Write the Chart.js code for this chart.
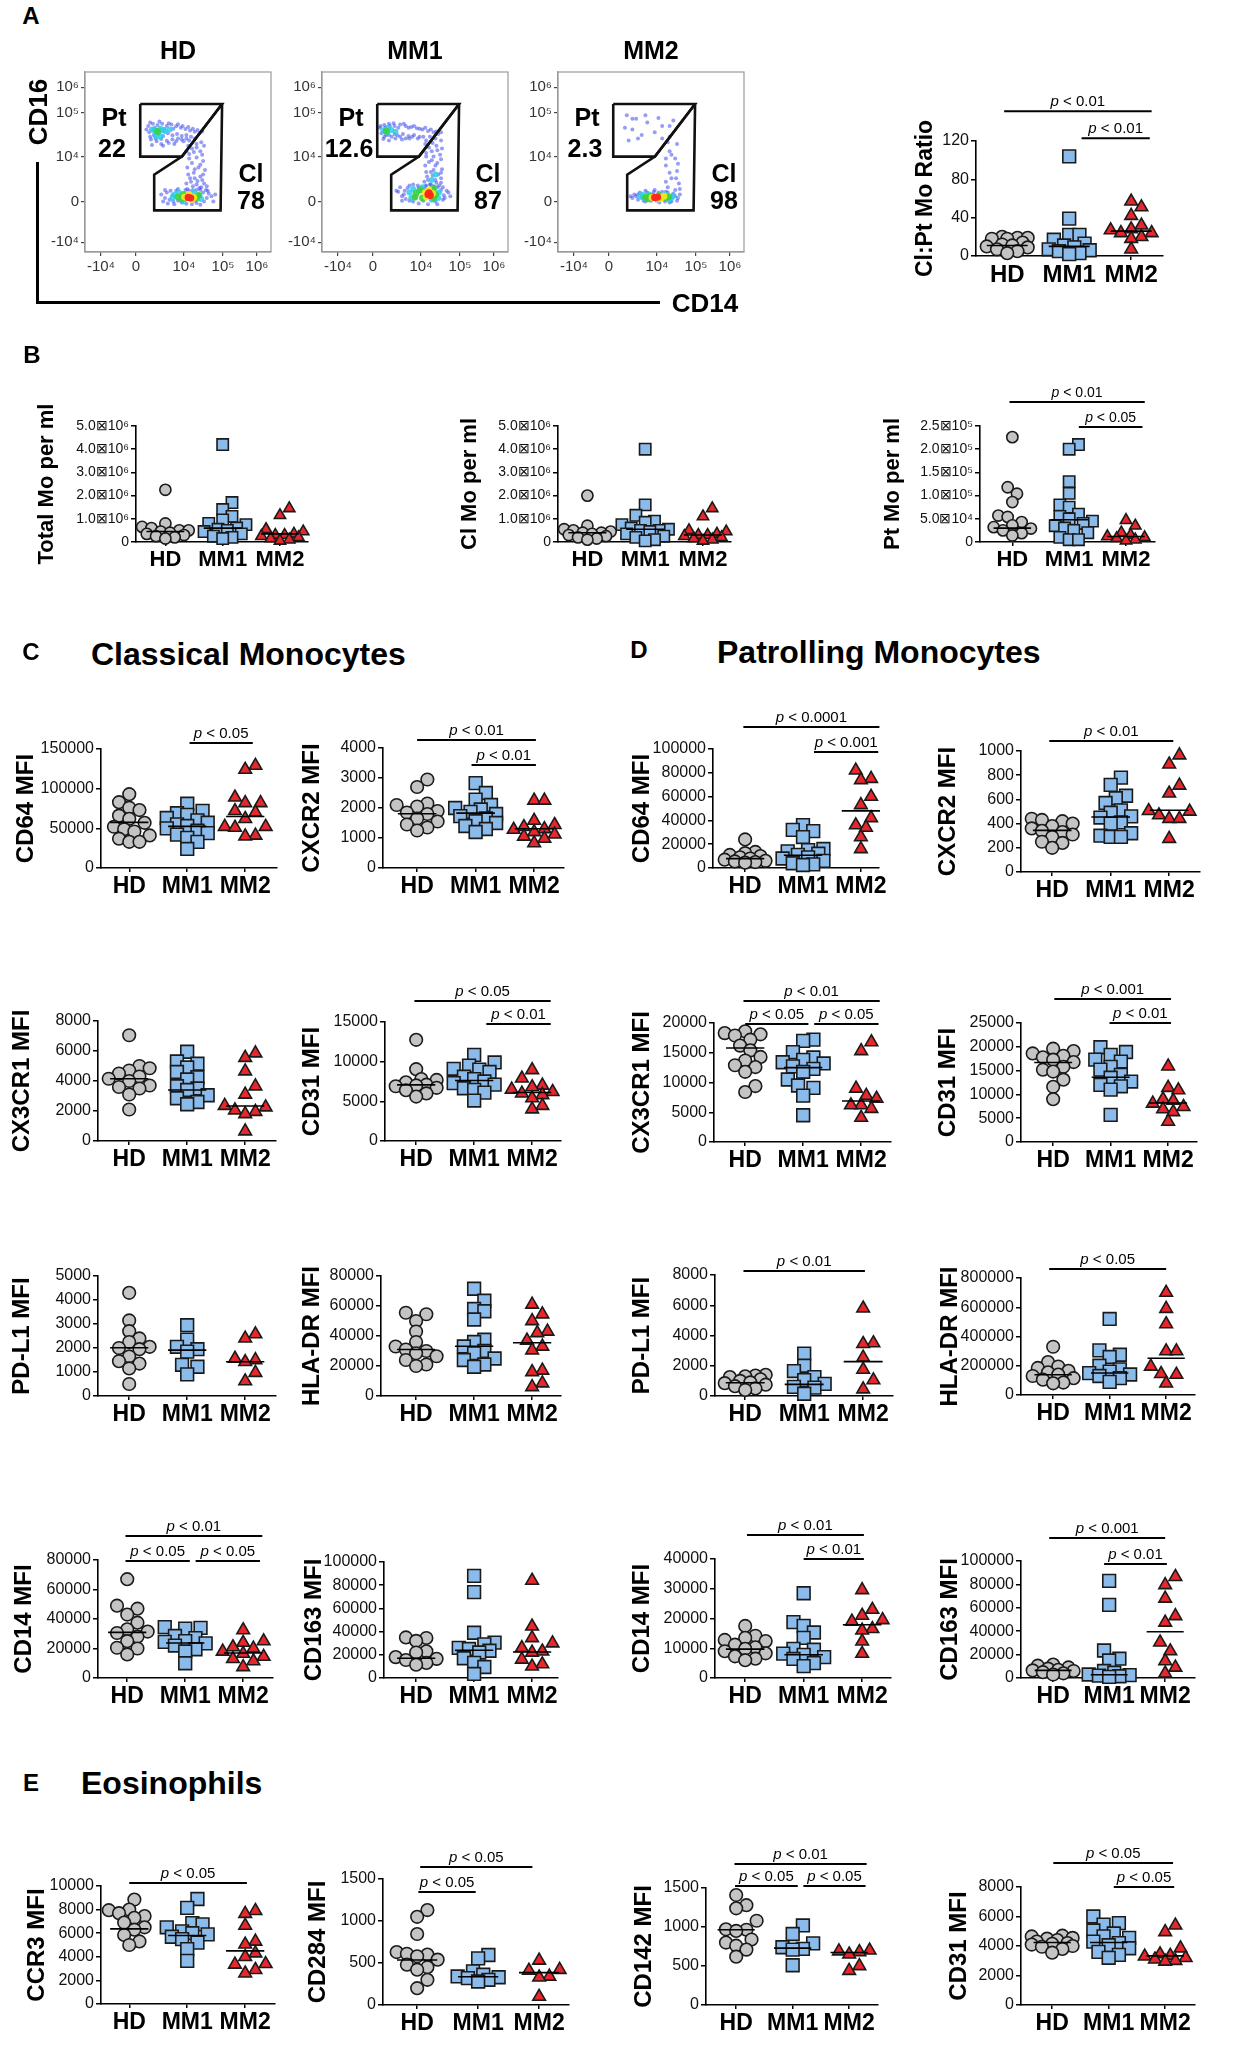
<!DOCTYPE html>
<html><head><meta charset="utf-8">
<script src="https://cdn.jsdelivr.net/npm/chart.js@4.4.1/dist/chart.umd.min.js"></script>
<style>
html,body{margin:0;padding:0;background:#fff;}
body{width:1240px;height:2048px;position:relative;overflow:hidden;}
canvas{position:absolute;}
</style></head>
<body>
<script>
// ---------------- DATA ----------------
const groups = ['HD', 'MM1', 'MM2'];

// Panel A: flow cytometry (channel units 0-1000 on a biexponential display)
const flowTitles = ['HD', 'MM1', 'MM2'];
const flowTickLabels = ['-10⁴', '0', '10⁴', '10⁵', '10⁶'];
const flowXTicks = [86, 274, 532, 742, 925];
const flowYTicks = [54, 281, 530, 775, 915];
const ptGate = [[297,822],[737,822],[521,530],[297,530],[297,822]];
const clGate = [[737,822],[729,231],[372,231],[372,429],[521,530]];
const ptPercent = ['22', '12.6', '2.3'];
const clPercent = ['78', '87', '98'];

const hdBlue = [[340,700],[365,712],[390,705],[415,712],[440,700],[465,708],[490,698],[515,690],[540,683],[565,675],[590,668],[615,660],
 [345,665],[370,650],[395,658],[420,645],[445,660],[470,648],[495,655],[520,645],[545,650],
 [355,625],[385,615],[410,628],[440,618],[470,625],[500,630],[530,615],[360,595],[420,590],[480,600],
 [560,620],[600,600],[575,575],[620,560],[560,545],[600,525],[635,505],[575,495],[610,470],[645,455],[585,440],[620,420],[565,410],[605,395],[640,380],[580,365],[615,355],[550,350],[650,345],
 [440,330],[470,315],[455,290],[490,340],[520,275],[560,340],[600,345],[635,330],[655,300],[640,280],[600,272],[500,285],[680,310],[430,300],[665,325],[475,280],[590,285],
 [330,680],[350,720],[375,690],[400,725],[425,685],[450,715],[475,685],[500,710],[525,700],[555,695],[580,685],[605,678],[630,670],[350,640],[380,630],[410,600],[450,605],[490,615],[520,625],[545,630],[570,640],[590,630],[625,610],[555,590],[600,580],[640,590],[545,560],[585,555],[630,540],[560,520],[620,485],[550,470],[590,460],[635,430],[555,430],[590,410],[630,400],[570,390],[655,365],[600,375],[545,380],[625,360],[580,345],[460,340],[500,350],[540,345],[620,345],[660,340],[420,280],[445,270],[480,265],[545,268],[575,265],[620,262],[690,280],[700,320],[410,320],[430,345]];
const hdCyan = [[360,680],[385,670],[405,685],[430,672],[455,680],[380,645],[405,640],[372,676],[395,662],[418,676],[480,318],[505,330],[615,315],[625,295],[530,280],[585,330],[470,300]];
const hdGreen = [[390,670],[500,305],[530,320],[600,300],[610,315],[520,295]];
const hdYellow = [[535,305],[585,303],[560,318],[575,292]];
const hdRed = [[555,303],[568,300]];

const mm1Blue = [[310,690],[335,705],[360,712],[390,700],[420,708],[450,700],[480,695],[510,688],[540,680],[570,672],[600,665],[625,655],
 [320,660],[345,650],[375,640],[405,648],[435,655],[465,645],[495,650],[525,640],
 [330,628],[360,620],[395,630],[430,625],[470,630],
 [560,620],[595,605],[575,580],[620,565],[560,550],[600,530],[640,515],[575,500],[610,480],[645,460],[585,445],[625,430],[565,420],[610,400],[640,385],[580,375],[620,360],[555,365],
 [420,360],[445,340],[430,310],[470,370],[500,300],[520,355],[560,370],[600,365],[640,345],[655,315],[650,290],[610,280],[470,285],[450,295],[680,330],[545,285],
 [315,700],[340,690],[365,700],[385,715],[410,690],[440,712],[465,690],[495,700],[525,685],[555,690],[585,680],[615,670],[640,665],[335,640],[360,650],[390,655],[420,640],[450,630],[485,640],[515,630],[545,640],[580,640],[610,630],[640,620],[555,600],[615,590],[645,575],[590,560],[560,530],[635,540],[590,510],[620,495],[555,480],[600,455],[640,440],[560,445],[595,425],[640,410],[570,400],[615,385],[550,390],[600,350],[650,360],[410,335],[430,285],[460,355],[490,375],[515,370],[550,350],[585,375],[630,370],[660,300],[670,340],[620,265],[520,270],[490,280],[440,320],[400,340],[690,310],[570,265]];
const mm1Cyan = [[330,675],[350,665],[372,678],[395,668],[355,690],[470,330],[490,350],[520,340],[630,330],[625,300],[480,300],[600,345],[540,360],[590,290],[590,400],[610,430]];
const mm1Green = [[345,672],[505,325],[530,345],[610,320],[600,300],[540,300],[500,305],[600,355]];
const mm1Yellow = [[555,330],[595,325],[575,345],[560,305]];
const mm1Red = [[570,320],[582,315],[575,328]];

const mm2Blue = [[370,760],[420,740],[480,720],[560,700],[400,680],[450,650],[520,665],[600,640],[380,620],[590,610],[470,760],[620,730],
 [600,560],[630,520],[580,480],[640,450],[610,410],[650,380],[590,360],[630,345],
 [410,320],[440,330],[430,290],[470,340],[500,285],[540,330],[580,335],[620,325],[645,300],[640,285],[610,280],[460,285],[400,300],[520,345],
 [400,740],[540,745],[600,700],[360,690],[430,630],[560,630],[640,600],[610,540],[580,520],[645,490],[600,440],[635,410],[580,390],[655,350],[420,310],[450,300],[480,330],[510,320],[530,285],[560,335],[590,330],[600,275],[630,310],[655,320],[470,280],[430,320],[390,310],[545,275],[575,280],[515,335]];
const mm2Cyan = [[440,310],[470,295],[490,320],[580,318],[610,300],[620,312],[455,318],[600,290]];
const mm2Green = [[470,305],[500,310],[545,315],[580,300],[595,308],[485,295]];
const mm2Yellow = [[505,303],[555,300],[540,295],[570,310]];
const mm2Red = [[520,303],[535,305]];

// Panel A: Cl:Pt ratio
const ratioHD = [20, 19, 19, 18, 18, 14, 12, 11, 10, 9, 7, 5, 3];
const ratioMM1 = [104, 39, 22, 22, 17, 13, 11, 9, 7, 6, 5, 3, 2];
const ratioMM2 = [57, 51, 42, 32, 28, 27, 24, 24, 20, 18, 7];
const ratioMed = [11, 10, 26];

// Panel B
const countTicks = ['0', '1.0⊠10⁶', '2.0⊠10⁶', '3.0⊠10⁶', '4.0⊠10⁶', '5.0⊠10⁶'];
const ptTicks = ['0', '5.0⊠10⁴', '1.0⊠10⁵', '1.5⊠10⁵', '2.0⊠10⁵', '2.5⊠10⁵'];
const totalHD = [2250000, 800000, 650000, 600000, 500000, 500000, 450000, 400000, 350000, 300000, 250000, 200000, 150000];
const totalMM1 = [4200000, 1700000, 1400000, 1100000, 950000, 800000, 750000, 600000, 550000, 500000, 450000, 350000, 250000, 200000, 150000];
const totalMM2 = [1450000, 1150000, 550000, 450000, 350000, 300000, 300000, 250000, 200000, 150000, 100000, 50000];
const totalMed = [450000, 600000, 350000];
const clHD = [2000000, 700000, 550000, 500000, 450000, 400000, 400000, 350000, 300000, 250000, 200000, 150000, 100000];
const clMM1 = [4000000, 1600000, 1150000, 900000, 850000, 750000, 600000, 550000, 500000, 500000, 450000, 350000, 250000, 200000, 100000, 50000];
const clMM2 = [1450000, 1100000, 500000, 450000, 350000, 300000, 300000, 250000, 200000, 150000, 100000, 50000];
const clMed = [400000, 550000, 300000];
const ptHD = [226000, 118000, 104000, 86000, 57000, 54000, 43000, 36000, 32000, 29000, 25000, 19000, 14000];
const ptMM1 = [210000, 200000, 130000, 105000, 80000, 75000, 60000, 55000, 50000, 45000, 40000, 35000, 30000, 25000, 20000, 10000, 5000, 5000];
const ptMM2 = [47000, 35000, 20000, 15000, 12000, 10000, 8000, 5000, 3000];
const ptMed = [30000, 48000, 12000];

// Panel C: classical monocytes
const cd64cHD = [93000, 83000, 76000, 73000, 66000, 62000, 57000, 52000, 49000, 46000, 41000, 37000, 33000, 33000];
const cd64cMM1 = [81000, 72000, 69000, 67000, 63000, 60000, 57000, 55000, 53000, 50000, 47000, 44000, 42000, 38000, 33000, 24000];
const cd64cMM2 = [129000, 124000, 89000, 82000, 82000, 72000, 70000, 62000, 52000, 52000, 51000, 41000, 40000];
const cd64cMed = [57500, 52500, 65000];
const cxcr2cHD = [2950, 2700, 2150, 2100, 2050, 1900, 1850, 1800, 1650, 1550, 1450, 1350, 1250];
const cxcr2cMM1 = [2830, 2500, 2280, 2100, 2000, 1950, 1870, 1800, 1730, 1650, 1560, 1500, 1400, 1300, 1200];
const cxcr2cMM2 = [2250, 2250, 1580, 1440, 1370, 1300, 1280, 1200, 1120, 1050, 980, 830];
const cxcr2cMed = [1810, 1830, 1310];
const cx3cr1cHD = [7050, 5000, 4850, 4700, 4500, 4300, 4150, 4000, 3700, 3600, 3500, 3100, 2100];
const cx3cr1cMM1 = [5950, 5300, 5150, 4900, 4600, 4250, 4100, 3650, 3500, 3400, 3050, 2850, 2600, 2450];
const cx3cr1cMM2 = [5850, 5550, 4650, 3650, 3100, 2350, 2250, 2050, 1950, 1800, 650];
const cx3cr1cMed = [4150, 3400, 2330];
const cd31cHD = [12750, 9050, 7800, 7700, 7400, 7100, 7000, 6900, 6700, 6400, 6000, 5600];
const cd31cMM1 = [10850, 9900, 9500, 9100, 9000, 8700, 8100, 7800, 7500, 7300, 7100, 6650, 6450, 6100, 5100];
const cd31cMM2 = [8950, 7900, 7000, 6800, 6500, 6200, 6000, 5800, 5400, 4450, 4000];
const cd31cMed = [7080, 7630, 6110];
const pdl1cHD = [4300, 3150, 2700, 2400, 2250, 2050, 2000, 1950, 1650, 1450, 1350, 1150, 500];
const pdl1cMM1 = [2950, 2350, 2050, 1950, 1850, 1300, 1220, 900];
const pdl1cMM2 = [2580, 2400, 1560, 1500, 1420, 970, 620];
const pdl1cMed = [2010, 1910, 1430];
const hladrcHD = [55500, 54500, 50000, 43000, 36000, 33000, 31000, 30000, 28500, 26500, 24000, 21000, 20000];
const hladrcMM1 = [71500, 63500, 58000, 56500, 51000, 37500, 36000, 33000, 30000, 28500, 25000, 24000, 21000, 19500];
const hladrcMM2 = [61000, 54500, 50000, 43000, 42000, 37000, 33000, 30500, 17000, 16000, 8500, 6000];
const hladrcMed = [31000, 33200, 35500];
const cd14cHD = [67000, 49000, 47000, 43000, 37500, 33000, 31500, 30500, 28000, 25000, 20500, 20000, 16000];
const cd14cMM1 = [34500, 34000, 33500, 28500, 27000, 25000, 24500, 23500, 22000, 19500, 18000, 10000];
const cd14cMM2 = [32500, 25000, 24000, 21000, 20000, 18000, 16500, 14500, 13000, 11500, 7500];
const cd14cMed = [30900, 23700, 16900];
const cd163cHD = [35000, 34500, 32000, 23000, 22000, 18000, 16500, 15500, 13000, 11500];
const cd163cMM1 = [88000, 74000, 39000, 30500, 29000, 26000, 25000, 23500, 22000, 17000, 13000, 9500, 3500];
const cd163cMM2 = [84000, 44500, 34500, 30000, 26000, 23000, 22000, 16000, 12000, 10000];
const cd163cMed = [17000, 23900, 22400];

// Panel D: patrolling monocytes
const cd64pHD = [24000, 13500, 12500, 11000, 10000, 9000, 8000, 7000, 6000, 5500, 5000, 4500];
const cd64pMM1 = [36000, 32000, 31000, 26000, 16000, 15000, 14000, 12000, 11000, 9000, 8000, 6000, 4000, 3000, 2500];
const cd64pMM2 = [82000, 75000, 74000, 60000, 53000, 42000, 36000, 34000, 26000, 16000];
const cd64pMed = [7900, 10700, 48000];
const cxcr2pHD = [440, 430, 420, 400, 380, 360, 340, 330, 310, 290, 250, 240, 200];
const cxcr2pMM1 = [780, 720, 630, 610, 570, 510, 490, 460, 450, 410, 400, 320, 300, 290, 290];
const cxcr2pMM2 = [965, 890, 715, 650, 505, 500, 470, 440, 440, 275];
const cxcr2pMed = [344, 455, 510];
const cx3cr1pHD = [18600, 18300, 18100, 17900, 17200, 16200, 15400, 14300, 13700, 12900, 12600, 11800, 9400, 8400];
const cx3cr1pMM1 = [17200, 17000, 15100, 14200, 13800, 13400, 13200, 12700, 12300, 11800, 10500, 9500, 9100, 7800, 4500];
const cx3cr1pMM2 = [16800, 15300, 9000, 7800, 7300, 6200, 6200, 5600, 4100];
const cx3cr1pMed = [15800, 12500, 6900];
const cd31pHD = [19600, 19100, 18600, 18100, 17800, 17300, 16800, 15800, 15200, 14800, 13100, 11600, 9000];
const cd31pMM1 = [19900, 18900, 18300, 17300, 16900, 15800, 15200, 14100, 13500, 12700, 12000, 11700, 11000, 5700];
const cd31pMM2 = [15900, 11400, 10900, 9000, 8700, 8100, 7400, 6900, 6300, 4300];
const cd31pMed = [16700, 13600, 8200];
const pdl1pHD = [1400, 1350, 1300, 1250, 1100, 1000, 900, 850, 750, 650, 500, 400];
const pdl1pMM1 = [2800, 2000, 1650, 1250, 1050, 800, 600, 550, 150];
const pdl1pMM2 = [5800, 3500, 3450, 2550, 1750, 1050, 450];
const pdl1pMed = [880, 770, 2270];
const hladrpHD = [330000, 225000, 195000, 185000, 165000, 155000, 140000, 130000, 115000, 105000, 85000, 80000];
const hladrpMM1 = [520000, 305000, 275000, 260000, 200000, 175000, 160000, 150000, 140000, 130000, 115000, 90000];
const hladrpMM2 = [700000, 590000, 485000, 300000, 300000, 195000, 145000, 140000, 80000];
const hladrpMed = [138000, 150000, 251000];
const cd14pHD = [17500, 14200, 13500, 12800, 12400, 11200, 10300, 9800, 9000, 8300, 7300, 6500, 6000];
const cd14pMM1 = [28500, 18800, 17500, 15300, 13500, 9800, 9500, 8200, 7800, 7000, 6400, 5000, 4000];
const cd14pMM2 = [29600, 23000, 21000, 19500, 19000, 16500, 16000, 12300, 8200];
const cd14pMed = [9700, 7800, 17900];
const cd163pHD = [11500, 10500, 9000, 8000, 7000, 6500, 6000, 5000, 4000, 3000];
const cd163pMM1 = [83000, 62500, 23500, 16500, 15000, 6000, 4500, 3000, 2500, 2000, 1500, 1000];
const cd163pMM2 = [86500, 79500, 68000, 53000, 47500, 30500, 23000, 14500, 9000, 4000];
const cd163pMed = [6500, 2800, 39500];

// Panel E: eosinophils
const ccr3HD = [8850, 8000, 7950, 7700, 7450, 7300, 6900, 6500, 6300, 5850, 5300, 5000];
const ccr3MM1 = [8900, 8150, 6850, 6750, 6500, 6150, 6000, 5900, 5700, 5500, 5200, 4650, 3650];
const ccr3MM2 = [7900, 7650, 6650, 5300, 5050, 4300, 4000, 3400, 3350, 2900, 2600];
const ccr3Med = [6370, 5800, 4500];
const cd284HD = [1130, 1050, 845, 630, 610, 600, 580, 540, 480, 450, 420, 300, 200];
const cd284MM1 = [595, 555, 400, 360, 340, 330, 320, 300, 280];
const cd284MM2 = [530, 420, 410, 340, 330, 100];
const cd284Med = [536, 337, 385];
const cd142HD = [1410, 1280, 1240, 1080, 970, 965, 950, 840, 800, 760, 710, 620];
const cd142MM1 = [1020, 910, 790, 740, 720, 710, 510];
const cd142MM2 = [700, 690, 680, 650, 500, 440];
const cd142Med = [964, 729, 673];
const cd31eHD = [4700, 4650, 4550, 4500, 4400, 4300, 4200, 4150, 4100, 4000, 3950, 3800, 3550];
const cd31eMM1 = [6000, 5550, 5450, 5050, 4850, 4650, 4550, 4300, 4200, 4050, 3850, 3600, 3400, 3200];
const cd31eMM2 = [5400, 4950, 3850, 3450, 3350, 3300, 3200, 3100, 3000, 2950];
const cd31eMed = [4240, 4240, 3330];

// ---------------- RENDERING ----------------
const FONT = "'Liberation Sans', Arial, Helvetica, sans-serif";
Chart.defaults.font.family = FONT;
Chart.defaults.color = '#000';
const fills = ['#c4c4c4', '#8bbbea', '#e8272d'];
const shapes = ['circle', 'rect', 'triangle'];

function txt(s, x, y, size, opt = {}) {
  const d = document.createElement('div');
  d.textContent = s;
  const tr = opt.left ? 'translate(0,-50%)' : 'translate(-50%,-50%)';
  d.style.cssText = `position:absolute;left:${x}px;top:${y}px;transform:${tr}${opt.rot ? ' rotate(-90deg)' : ''};` +
    `font:bold ${size}px ${FONT};white-space:nowrap;line-height:1;color:#000;`;
  document.body.appendChild(d);
}
function line(x, y, w, h) {
  const d = document.createElement('div');
  d.style.cssText = `position:absolute;left:${x}px;top:${y}px;width:${w}px;height:${h}px;background:#000;`;
  document.body.appendChild(d);
}
function mkCanvas(l, t, w, h) {
  const c = document.createElement('canvas');
  c.width = w; c.height = h;
  c.style.cssText = `left:${l}px;top:${t}px;width:${w}px;height:${h}px;`;
  document.body.appendChild(c);
  return c;
}

// beeswarm: horizontal offsets (px) so markers do not overlap too much
function swarm(vals, pxv, d, maxOff) {
  const order = vals.map((v, i) => i).sort((a, b) => vals[a] - vals[b]);
  const placed = [], off = new Array(vals.length).fill(0);
  const cands = [0];
  for (let k = 1; k * d * 0.5 <= maxOff; k++) cands.push(k * d * 0.5, -k * d * 0.5);
  for (const i of order) {
    const y = vals[i] * pxv;
    let best = 0, bestMin = -1;
    for (const c of cands) {
      let mind = Infinity;
      for (const p of placed) mind = Math.min(mind, Math.hypot(p.x - c, p.y - y));
      if (mind >= d) { best = c; break; }
      if (mind > bestMin) { bestMin = mind; best = c; }
    }
    placed.push({ x: best, y });
    off[i] = best;
  }
  return off;
}

const sigPlugin = {
  id: 'sig',
  afterDatasetsDraw(chart) {
    const o = chart.options.plugins.sig;
    if (!o || !o.items) return;
    const { ctx } = chart, xs = chart.scales.x, ys = chart.scales.y;
    ctx.save();
    for (const [a, b, v, t] of o.items) {
      const x1 = xs.getPixelForValue(a), x2 = xs.getPixelForValue(b), py = ys.getPixelForValue(v);
      ctx.strokeStyle = '#000'; ctx.lineWidth = 2;
      ctx.beginPath(); ctx.moveTo(x1, py); ctx.lineTo(x2, py); ctx.stroke();
      const rest = ' < ' + t;
      ctx.font = `italic ${o.fs}px ${FONT}`; const w1 = ctx.measureText('p').width;
      ctx.font = `${o.fs}px ${FONT}`; const w2 = ctx.measureText(rest).width;
      const sx = (x1 + x2) / 2 - (w1 + w2) / 2;
      ctx.fillStyle = '#000'; ctx.textBaseline = 'alphabetic'; ctx.textAlign = 'left';
      ctx.font = `italic ${o.fs}px ${FONT}`; ctx.fillText('p', sx, py - 5);
      ctx.font = `${o.fs}px ${FONT}`; ctx.fillText(rest, sx + w1, py - 5);
    }
    ctx.restore();
  }
};

function dotChart(s) {
  const tfs = s.tfs || 24, tick = s.tick || 16, cat = s.cat || 23;
  const left = Math.round(s.tx - 0.6 * tfs);
  const top = s.T - 75, right = s.R + 6, xH = 42;
  const W = right - left, H = s.B - top + xH;
  const cv = mkCanvas(left, top, W, H);
  const sp = (s.c3 - s.c1) / 2;
  const xmin = 1 - (s.c1 - s.L) / sp, xmax = 1 + (s.R - s.c1) / sp;
  const pxv = (s.B - s.T) / s.max;
  const ms = s.ms || [6.3, 9, 7.3];
  const ds = [];
  s.data.forEach((vals, g) => {
    const off = swarm(vals, pxv, s.d || 10.5, 25);
    ds.push({
      data: vals.map((v, i) => ({ x: g + 1 + off[i] / sp, y: v })),
      pointStyle: shapes[g], pointRadius: ms[g], pointHoverRadius: ms[g],
      backgroundColor: fills[g], borderColor: '#1a1a1a', borderWidth: 1.6,
      showLine: false, order: 2, clip: false
    });
  });
  s.med.forEach((m, g) => ds.push({
    data: [{ x: g + 1 - 0.33, y: m }, { x: g + 1 + 0.33, y: m }],
    showLine: true, borderColor: '#000', borderWidth: 1.6, pointRadius: 0, order: 1, clip: false
  }));
  new Chart(cv, {
    type: 'scatter',
    data: { datasets: ds },
    options: {
      responsive: false, animation: false, devicePixelRatio: 1,
      layout: { padding: { top: s.T - top, right: right - s.R, left: 0, bottom: 0 } },
      plugins: { legend: { display: false }, tooltip: { enabled: false }, sig: { items: s.sig || [], fs: s.sfs || 15 } },
      scales: {
        x: {
          type: 'linear', min: xmin, max: xmax,
          afterBuildTicks: sc => { sc.ticks = [{ value: 1 }, { value: 2 }, { value: 3 }]; },
          afterFit: sc => { sc.height = xH; },
          ticks: { callback: v => groups[Math.round(v) - 1], font: { size: cat, weight: 'bold' }, color: '#000', padding: 1, autoSkip: false, maxRotation: 0 },
          grid: { display: true, drawOnChartArea: false, drawTicks: true, tickLength: 4, color: '#000', lineWidth: 1.5 },
          border: { display: true, color: '#000', width: 1.6 }
        },
        y: {
          min: 0, max: s.max,
          afterFit: sc => { sc.width = s.L - left; },
          ticks: { stepSize: s.step, font: { size: tick }, color: '#111', padding: 2,
            callback: v => s.labels ? s.labels[Math.round(v / s.step)] : String(v) },
          grid: { display: true, drawOnChartArea: false, drawTicks: true, tickLength: 5, color: '#000', lineWidth: 1.5 },
          border: { display: true, color: '#000', width: 1.6 },
          title: { display: true, text: s.title, font: { size: tfs, weight: 'bold' }, color: '#000', padding: 0 }
        }
      }
    },
    plugins: [sigPlugin]
  });
}

// flow density plots
const framePlugin = {
  id: 'frame',
  afterDraw(chart) {
    const a = chart.chartArea, ctx = chart.ctx;
    ctx.save(); ctx.strokeStyle = '#9a9a9a'; ctx.lineWidth = 1.2;
    ctx.strokeRect(a.left, a.top, a.right - a.left, a.bottom - a.top); ctx.restore();
  }
};
function flowChart(L, levels) {
  const T = 67, Wf = 186, Hf = 185, yw = 50, xh = 34, pt = 6, pr = 6;
  const cv = mkCanvas(L - yw, T - pt, yw + Wf + pr, pt + Hf + xh);
  const lvl = [
    { c: 'rgba(45,60,235,0.5)', r: 2.0 }, { c: 'rgba(45,205,235,0.85)', r: 3.0 },
    { c: 'rgba(60,210,60,0.9)', r: 3.4 }, { c: 'rgba(245,225,30,0.95)', r: 3.4 }, { c: 'rgba(255,40,30,1)', r: 3.6 }
  ];
  const ds = levels.map((pts, i) => ({
    data: pts.map(p => ({ x: p[0], y: p[1] })), pointRadius: lvl[i].r, pointHoverRadius: lvl[i].r,
    backgroundColor: lvl[i].c, borderWidth: 0, showLine: false, order: 5 - i
  }));
  [ptGate, clGate].forEach(gt => ds.push({
    data: gt.concat([gt[0]]).map(p => ({ x: p[0], y: p[1] })), showLine: true, borderColor: '#111',
    borderWidth: 2.6, pointRadius: 0, order: 0, clip: false
  }));
  const axisCommon = {
    min: 0, max: 1000,
    ticks: { font: { size: 15 }, color: '#333', padding: 2, autoSkip: false, maxRotation: 0, callback: (v, i) => flowTickLabels[i] },
    grid: { display: true, drawOnChartArea: false, drawTicks: true, tickLength: 4, color: '#444', lineWidth: 1.2 },
    border: { display: true, color: '#9a9a9a', width: 1.2 }
  };
  new Chart(cv, {
    type: 'scatter', data: { datasets: ds },
    options: {
      responsive: false, animation: false, devicePixelRatio: 1,
      layout: { padding: { top: pt, right: pr, left: 0, bottom: 0 } },
      plugins: { legend: { display: false }, tooltip: { enabled: false } },
      scales: {
        x: Object.assign({}, axisCommon, { afterBuildTicks: sc => { sc.ticks = flowXTicks.map(v => ({ value: v })); }, afterFit: sc => { sc.height = xh; } }),
        y: Object.assign({}, axisCommon, { afterBuildTicks: sc => { sc.ticks = flowYTicks.map(v => ({ value: v })); }, afterFit: sc => { sc.width = yw; } })
      }
    },
    plugins: [framePlugin]
  });
}

// ---------------- PANEL A ----------------
txt('A', 31, 16, 24);
const flowLefts = [85, 322, 558];
const flowSets = [
  [hdBlue, hdCyan, hdGreen, hdYellow, hdRed],
  [mm1Blue, mm1Cyan, mm1Green, mm1Yellow, mm1Red],
  [mm2Blue, mm2Cyan, mm2Green, mm2Yellow, mm2Red]
];
flowLefts.forEach((L, i) => {
  flowChart(L, flowSets[i]);
  txt(flowTitles[i], L + 93, 50, 25);
  txt('Pt', L + 29, 117, 25);
  txt(ptPercent[i], L + 27, 148, 25);
  txt('Cl', L + 166, 173, 25);
  txt(clPercent[i], L + 166, 200, 25);
});
line(36, 162, 3, 142);
line(36, 301, 624, 3);
txt('CD16', 38, 112, 26, { rot: true });
txt('CD14', 705, 303, 26);

dotChart({ L: 976, R: 1167, T: 141, B: 256, c1: 1008, c3: 1135, max: 120, step: 20, title: 'Cl:Pt Mo Ratio', tx: 926, tfs: 23, cat: 24,
  data: [ratioHD, ratioMM1, ratioMM2], med: ratioMed, sig: [[0.95, 3.33, 151, '0.01'], [2.2, 3.3, 123, '0.01']] });

// ---------------- PANEL B ----------------
txt('B', 32, 355, 24);
const bMs = [5.6, 8, 6.5];
dotChart({ L: 136, R: 311, T: 426, B: 542, c1: 166, c3: 283, max: 5000000, step: 1000000, labels: countTicks, title: 'Total Mo per ml', tx: 47, tfs: 22, cat: 22, tick: 14, ms: bMs, d: 9.5,
  data: [totalHD, totalMM1, totalMM2], med: totalMed });
dotChart({ L: 558, R: 734, T: 426, B: 542, c1: 588, c3: 706, max: 5000000, step: 1000000, labels: countTicks, title: 'Cl Mo per ml', tx: 470, tfs: 22, cat: 22, tick: 14, ms: bMs, d: 9.5,
  data: [clHD, clMM1, clMM2], med: clMed });
dotChart({ L: 980, R: 1158, T: 426, B: 542, c1: 1013, c3: 1129, max: 250000, step: 50000, labels: ptTicks, title: 'Pt Mo per ml', tx: 893, tfs: 22, cat: 22, tick: 14, ms: bMs, d: 9.5, sfs: 14,
  data: [ptHD, ptMM1, ptMM2], med: ptMed, sig: [[0.95, 3.33, 301700, '0.01'], [2.17, 3.29, 247800, '0.05']] });

// ---------------- PANEL C ----------------
txt('C', 31, 652, 24);
txt('Classical Monocytes', 91, 654, 32, { left: true });
dotChart({ L: 101, R: 281, T: 749, B: 868, c1: 130, c3: 249, max: 150000, step: 50000, title: 'CD64 MFI', tx: 26,
  data: [cd64cHD, cd64cMM1, cd64cMM2], med: cd64cMed, sig: [[2.04, 3.13, 157600, '0.05']] });
dotChart({ L: 383, R: 568, T: 748, B: 868, c1: 418, c3: 538, max: 4000, step: 1000, title: 'CXCR2 MFI', tx: 312,
  data: [cxcr2cHD, cxcr2cMM1, cxcr2cMM2], med: cxcr2cMed, sig: [[1.0, 3.03, 4267, '0.01'], [1.93, 3.03, 3433, '0.01']] });
dotChart({ L: 98, R: 280, T: 1021, B: 1141, c1: 130, c3: 249, max: 8000, step: 2000, title: 'CX3CR1 MFI', tx: 22,
  data: [cx3cr1cHD, cx3cr1cMM1, cx3cr1cMM2], med: cx3cr1cMed });
dotChart({ L: 385, R: 565, T: 1022, B: 1141, c1: 417, c3: 536, max: 15000, step: 5000, title: 'CD31 MFI', tx: 312,
  data: [cd31cHD, cd31cMM1, cd31cMM2], med: cd31cMed, sig: [[0.97, 3.32, 17647, '0.05'], [2.21, 3.32, 14748, '0.01']] });
dotChart({ L: 98, R: 280, T: 1276, B: 1396, c1: 130, c3: 249, max: 5000, step: 1000, title: 'PD-L1 MFI', tx: 22,
  data: [pdl1cHD, pdl1cMM1, pdl1cMM2], med: pdl1cMed });
dotChart({ L: 381, R: 565, T: 1276, B: 1396, c1: 417, c3: 536, max: 80000, step: 20000, title: 'HLA-DR MFI', tx: 312,
  data: [hladrcHD, hladrcMM1, hladrcMM2], med: hladrcMed });
dotChart({ L: 98, R: 277, T: 1560, B: 1678, c1: 128, c3: 247, max: 80000, step: 20000, title: 'CD14 MFI', tx: 24,
  data: [cd14cHD, cd14cMM1, cd14cMM2], med: cd14cMed, sig: [[0.97, 3.33, 96271, '0.01'], [0.97, 2.08, 79322, '0.05'], [2.18, 3.29, 79322, '0.05']] });
dotChart({ L: 384, R: 562, T: 1562, B: 1678, c1: 417, c3: 536, max: 100000, step: 20000, title: 'CD163 MFI', tx: 314,
  data: [cd163cHD, cd163cMM1, cd163cMM2], med: cd163cMed });

// ---------------- PANEL D ----------------
txt('D', 639, 650, 24);
txt('Patrolling Monocytes', 717, 652, 32, { left: true });
dotChart({ L: 713, R: 883, T: 749, B: 868, c1: 746, c3: 865, max: 100000, step: 20000, title: 'CD64 MFI', tx: 642,
  data: [cd64pHD, cd64pMM1, cd64pMM2], med: cd64pMed, sig: [[0.97, 3.32, 118500, '0.0001'], [2.19, 3.30, 97500, '0.001']] });
dotChart({ L: 1021, R: 1204, T: 751, B: 872, c1: 1053, c3: 1173, max: 1000, step: 200, title: 'CXCR2 MFI', tx: 948,
  data: [cxcr2pHD, cxcr2pMM1, cxcr2pMM2], med: cxcr2pMed, sig: [[0.95, 3.07, 1083, '0.01']] });
dotChart({ L: 714, R: 895, T: 1023, B: 1142, c1: 746, c3: 865, max: 20000, step: 5000, title: 'CX3CR1 MFI', tx: 642,
  data: [cx3cr1pHD, cx3cr1pMM1, cx3cr1pMM2], med: cx3cr1pMed, sig: [[0.97, 3.32, 23697, '0.01'], [1.0, 2.09, 19832, '0.05'], [2.19, 3.30, 19832, '0.05']] });
dotChart({ L: 1021, R: 1201, T: 1023, B: 1142, c1: 1054, c3: 1172, max: 25000, step: 5000, title: 'CD31 MFI', tx: 948,
  data: [cd31pHD, cd31pMM1, cd31pMM2], med: cd31pMed, sig: [[1.02, 3.05, 30042, '0.001'], [1.98, 3.05, 25000, '0.01']] });
dotChart({ L: 715, R: 897, T: 1275, B: 1396, c1: 746, c3: 867, max: 8000, step: 2000, title: 'PD-L1 MFI', tx: 642,
  data: [pdl1pHD, pdl1pMM1, pdl1pMM2], med: pdl1pMed, sig: [[0.97, 3.03, 8264, '0.01']] });
dotChart({ L: 1021, R: 1199, T: 1278, B: 1395, c1: 1054, c3: 1170, max: 800000, step: 200000, title: 'HLA-DR MFI', tx: 950,
  data: [hladrpHD, hladrpMM1, hladrpMM2], med: hladrpMed, sig: [[0.93, 3.0, 861500, '0.05']] });
dotChart({ L: 715, R: 895, T: 1559, B: 1678, c1: 746, c3: 866, max: 40000, step: 10000, title: 'CD14 MFI', tx: 642,
  data: [cd14pHD, cd14pMM1, cd14pMM2], med: cd14pMed, sig: [[1.03, 3.03, 48067, '0.01'], [2.0, 3.03, 40000, '0.01']] });
dotChart({ L: 1021, R: 1199, T: 1561, B: 1678, c1: 1054, c3: 1169, max: 100000, step: 20000, title: 'CD163 MFI', tx: 950,
  data: [cd163pHD, cd163pMM1, cd163pMM2], med: cd163pMed, sig: [[0.93, 3.0, 119658, '0.001'], [1.91, 3.03, 97436, '0.01']] });

// ---------------- PANEL E ----------------
txt('E', 31, 1783, 24);
txt('Eosinophils', 81, 1783, 32, { left: true });
dotChart({ L: 101, R: 279, T: 1886, B: 2004, c1: 130, c3: 249, max: 10000, step: 2000, title: 'CCR3 MFI', tx: 37,
  data: [ccr3HD, ccr3MM1, ccr3MM2], med: ccr3Med, sig: [[1.0, 3.03, 10254, '0.05']] });
dotChart({ L: 383, R: 573, T: 1879, B: 2005, c1: 418, c3: 543, max: 1500, step: 500, title: 'CD284 MFI', tx: 318,
  data: [cd284HD, cd284MM1, cd284MM2], med: cd284Med, sig: [[1.05, 2.89, 1643, '0.05'], [1.02, 1.96, 1345, '0.05']] });
dotChart({ L: 706, R: 882, T: 1888, B: 2005, c1: 737, c3: 853, max: 1500, step: 500, title: 'CD142 MFI', tx: 644,
  data: [cd142HD, cd142MM1, cd142MM2], med: cd142Med, sig: [[0.97, 3.31, 1808, '0.01'], [0.98, 2.09, 1526, '0.05'], [2.19, 3.29, 1526, '0.05']] });
dotChart({ L: 1021, R: 1199, T: 1887, B: 2005, c1: 1053, c3: 1169, max: 8000, step: 2000, title: 'CD31 MFI', tx: 959,
  data: [cd31eHD, cd31eMM1, cd31eMM2], med: cd31eMed, sig: [[1.02, 3.14, 9627, '0.05'], [2.09, 3.16, 8000, '0.05']] });
</script>
</body></html>
